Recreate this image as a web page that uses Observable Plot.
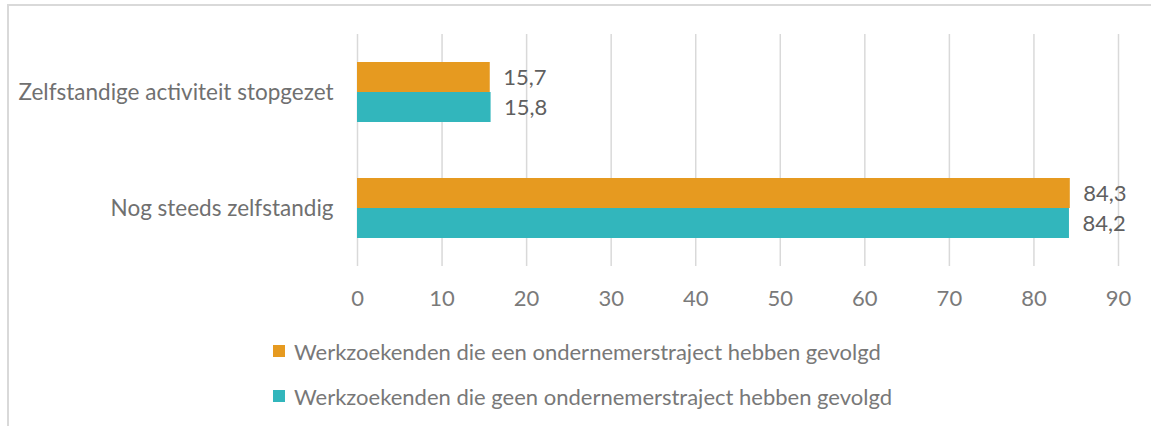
<!DOCTYPE html>
<html>
<head>
<meta charset="utf-8">
<script src="https://cdn.jsdelivr.net/npm/d3@7"></script>
<script src="https://cdn.jsdelivr.net/npm/@observablehq/plot@0.6"></script>
<style>
  html, body { margin: 0; padding: 0; background: #fff; width: 1151px; height: 426px; overflow: hidden; }
  #frame { position: absolute; left: 7px; top: 4px; width: 1200px; height: 500px; border-left: 2px solid #d9d9d9; border-top: 2px solid #d9d9d9; box-sizing: border-box; }
  #chart { position: absolute; left: 0; top: 0; }
  #legend { position: absolute; left: 273px; top: 338px; font-family: Lato, "Open Sans", sans-serif; font-size: 22px; color: #787878; }
  .row { display: flex; align-items: center; height: 26px; margin-bottom: 19px; white-space: nowrap; }
  .sw { width: 12px; height: 12px; margin-right: 9px; flex: none; }
</style>
</head>
<body>
<div id="frame"></div>
<div id="chart"></div>
<div id="legend"></div>
<script>
const categories = ["Zelfstandige activiteit stopgezet", "Nog steeds zelfstandig"];
const series = [
  "Werkzoekenden die een ondernemerstraject hebben gevolgd",
  "Werkzoekenden die geen ondernemerstraject hebben gevolgd"
];
const valuesWithTraject = [15.7, 84.3];
const valuesWithoutTraject = [15.8, 84.2];
const xTicks = [0, 10, 20, 30, 40, 50, 60, 70, 80, 90];
const colors = ["#E69A20", "#32B6BC"];

const rows = [];
categories.forEach((c, i) => {
  rows.push({category: c, series: series[0], value: valuesWithTraject[i]});
  rows.push({category: c, series: series[1], value: valuesWithoutTraject[i]});
});

const font = "Lato, 'Open Sans', sans-serif";
const fmt = v => v.toFixed(1).replace(".", ",");

const chart = Plot.plot({
  width: 1151,
  height: 320,
  marginLeft: 357,
  marginRight: 33,
  marginTop: 34,
  marginBottom: 54,
  style: {fontFamily: font, fontSize: "22px", color: "#595959", background: "transparent", overflow: "visible"},
  x: {domain: [0, 90]},
  fy: {domain: categories, padding: 0},
  y: {domain: series, paddingInner: 0, paddingOuter: 0.933},
  color: {domain: series, range: colors},
  marks: [
    Plot.gridX(xTicks, {stroke: "#d9d9d9", strokeOpacity: 1, strokeWidth: 1.5}),
    Plot.barX(rows, {x: "value", y: "series", fy: "category", fill: "series"}),
    Plot.text(rows, {x: "value", y: "series", fy: "category", text: d => fmt(d.value),
      textAnchor: "start", dx: 13, fill: "#5f5f5f", fontSize: 22}),
    Plot.axisX(xTicks, {tickSize: 0, tickPadding: 24, label: null, tickFormat: d => String(d),
      fill: "#7a7a7a", fontSize: 22}),
    Plot.axisFy({anchor: "left", tickSize: 0, tickPadding: 24, label: null, fill: "#707070", fontSize: 22.5}),
    Plot.axisY({ticks: [], tickSize: 0, label: null})
  ]
});
document.getElementById("chart").appendChild(chart);

const legend = document.getElementById("legend");
series.forEach((s, i) => {
  const row = document.createElement("div");
  row.className = "row";
  const sw = document.createElement("span");
  sw.className = "sw";
  sw.style.background = colors[i];
  const t = document.createElement("span");
  t.textContent = s;
  row.appendChild(sw);
  row.appendChild(t);
  legend.appendChild(row);
});
</script>
</body>
</html>
